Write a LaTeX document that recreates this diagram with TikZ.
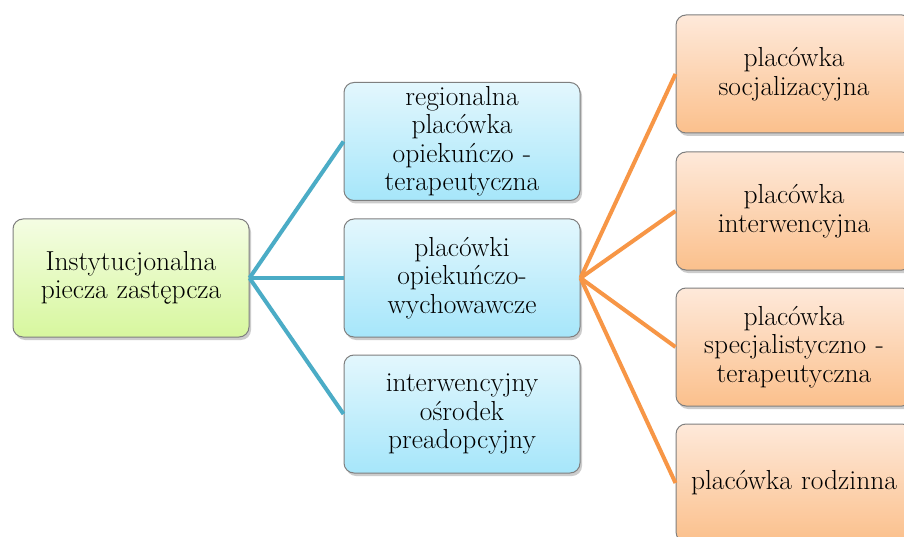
\documentclass[tikz,border=0pt]{standalone}
\usepackage{fontspec}
\usetikzlibrary{shadows}
\definecolor{bordergray}{HTML}{7F7F7F}
\definecolor{blueline}{HTML}{4BACC6}
\definecolor{orangeline}{HTML}{F79646}
\definecolor{gtop}{HTML}{F4FDE3}
\definecolor{gbot}{HTML}{D7F79E}
\definecolor{btop}{HTML}{E3F7FD}
\definecolor{bbot}{HTML}{A6E6FA}
\definecolor{otop}{HTML}{FEE9DA}
\definecolor{obot}{HTML}{FBC08C}
\tikzset{
  box/.style={draw=bordergray, line width=1pt, rounded corners=10pt,
    minimum width=236pt, minimum height=118pt, text width=228pt,
    align=center, inner sep=0pt,
    font=\fontsize{27.5}{28.5}\selectfont,
    drop shadow={opacity=0.4, shadow xshift=2pt, shadow yshift=-3pt}},
  greenbox/.style={box, top color=gtop, bottom color=gbot},
  bluebox/.style={box, top color=btop, bottom color=bbot},
  orangebox/.style={box, top color=otop, bottom color=obot},
  bconn/.style={draw=blueline, line width=4pt},
  oconn/.style={draw=orangeline, line width=4pt}
}
\begin{document}
\begin{tikzpicture}[x=1pt,y=-1pt]
\useasboundingbox (0,0) rectangle (904,537);
\clip (0,0) rectangle (904,537);
\fill[white] (0,0) rectangle (904,537);
\node[greenbox] (root) at (131,278) {Instytucjonalna\\piecza zastępcza};
\node[bluebox] (m1) at (462,141.5) {regionalna\\placówka\\opiekuńczo -\\terapeutyczna};
\node[bluebox] (m2) at (462,278) {placówki\\opiekuńczo-\\wychowawcze};
\node[bluebox] (m3) at (462,414) {interwencyjny\\ośrodek\\preadopcyjny};
\node[orangebox] (r1) at (794,74) {placówka\\socjalizacyjna};
\node[orangebox] (r2) at (794,211) {placówka\\interwencyjna};
\node[orangebox] (r3) at (794,347) {placówka\\specjalistyczno -\\terapeutyczna};
\node[orangebox] (r4) at (794,483) {placówka rodzinna};
\draw[bconn] (root.east) -- (m1.west);
\draw[bconn] (root.east) -- (m2.west);
\draw[bconn] (root.east) -- (m3.west);
\draw[oconn] (m2.east) -- (r1.west);
\draw[oconn] (m2.east) -- (r2.west);
\draw[oconn] (m2.east) -- (r3.west);
\draw[oconn] (m2.east) -- (r4.west);
\end{tikzpicture}
\end{document}
